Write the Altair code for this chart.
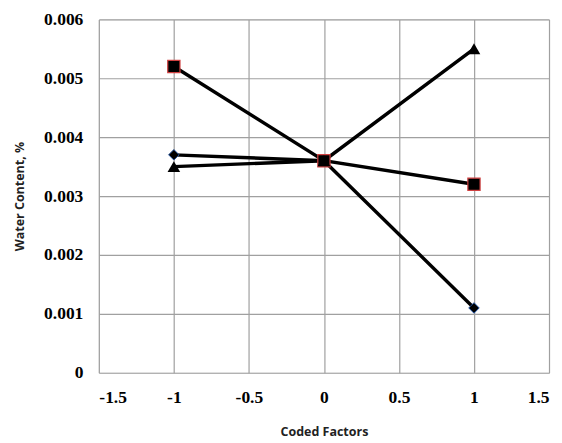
import altair as alt
import pandas as pd

x_vals = [-1, 0, 1]
diamond = [0.0037, 0.0036, 0.0011]
square = [0.0052, 0.0036, 0.0032]
triangle = [0.0035, 0.0036, 0.0055]
x_ticks = [-1.5, -1, -0.5, 0, 0.5, 1, 1.5]
y_ticks = [0, 0.001, 0.002, 0.003, 0.004, 0.005, 0.006]

rows = []
for name, vals in [("diamond", diamond), ("square", square), ("triangle", triangle)]:
    for x, v in zip(x_vals, vals):
        rows.append({"series": name, "x": x, "y": v})
df = pd.DataFrame(rows)

xscale = alt.Scale(domain=[-1.5, 1.5], nice=False, zero=False)
yscale = alt.Scale(domain=[0, 0.006], nice=False)

xaxis = alt.Axis(title="Coded Factors", values=x_ticks, labelPadding=16, titlePadding=19,
                 labelExpr="toString(datum.value)")
yaxis = alt.Axis(title="Water Content, %", values=y_ticks, labelPadding=16, titlePadding=17,
                 labelExpr="toString(datum.value)")

base = alt.Chart(df).encode(
    x=alt.X("x:Q", scale=xscale, axis=xaxis),
    y=alt.Y("y:Q", scale=yscale, axis=yaxis),
)

lines = base.mark_line(color="black", strokeWidth=3.4).encode(detail="series:N")

d_pts = base.transform_filter("datum.series == 'diamond'").mark_point(
    shape="diamond", filled=True, color="black", stroke="#1f4e9a", strokeWidth=1, size=110, opacity=1)
s_pts = base.transform_filter("datum.series == 'square'").mark_point(
    shape="square", filled=True, color="black", stroke="#d04040", strokeWidth=1.2, size=150, opacity=1)
t_pts = base.transform_filter("datum.series == 'triangle'").mark_point(
    shape="triangle-up", filled=True, color="black", size=160, opacity=1)

chart = alt.layer(lines, d_pts, s_pts, t_pts).properties(
    width=451, height=354,
    autosize=alt.AutoSizeParams(type="none"),
    padding={"left": 91, "top": 11, "right": 5, "bottom": 70},
).configure_view(stroke="#222", strokeWidth=2).configure(background="white").configure_axis(
    labelFont="Liberation Serif", labelFontWeight="bold", labelFontSize=17.5,
    labelColor="black", ticks=False, domain=False,
    gridColor="#a0a0a0", gridWidth=1.2,
    titleFont="Open Sans", titleFontSize=12.5, titleFontWeight="bold", titleColor="#222",
)

chart.save("out.html", embed_options={"renderer": "svg", "actions": False})
